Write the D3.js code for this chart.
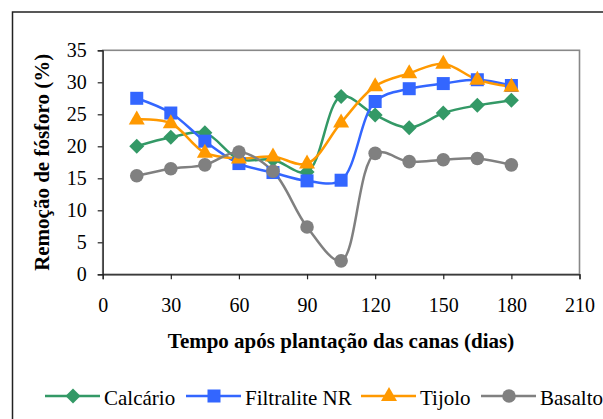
<!DOCTYPE html>
<html><head><meta charset="utf-8">
<script src="https://cdn.jsdelivr.net/npm/d3@7"></script>
<style>body{margin:0;background:#fff;} svg{display:block;}</style>
</head><body>
<svg id="c" width="603" height="419"></svg>
<script>
const days = [15,30,45,60,75,90,105,120,135,150,165,180];
const calcario   = [20.0,21.4,22.1,18.0,17.9,16.0,27.8,24.9,22.9,25.2,26.4,27.2];
const filtralite = [27.5,25.2,20.8,17.3,15.9,14.6,14.7,27.0,29.0,29.8,30.4,29.5];
const tijolo     = [24.2,23.6,19.0,18.1,18.4,17.3,23.7,29.4,31.4,32.9,30.4,29.3];
const basalto    = [15.4,16.5,17.1,19.1,16.1,7.4,2.1,18.9,17.6,17.9,18.1,17.1];
const xTicks = [0,30,60,90,120,150,180,210];
const yTicks = [0,5,10,15,20,25,30,35];
const seriesNames = ["Calcário","Filtralite NR","Tijolo","Basalto"];
const seriesColors = ["#339966","#3366FF","#FF9900","#808080"];
const seriesShapes = ["diamond","square","triangle","circle"];
const seriesData = [calcario, filtralite, tijolo, basalto];

// make sure the serif face is resolved before drawing
const cv = document.createElement("canvas").getContext("2d");
["20px 'Liberation Serif'","bold 20px 'Liberation Serif'"].forEach(f=>{cv.font=f; cv.measureText("Remoção 0123");});

const SERIF = "'Liberation Serif', monospace";
const svg = d3.select("#c");
const L = 102.7, R = 579.5, T = 50.3, B = 274.3;
const x = d3.scaleLinear().domain([0,210]).range([L,R]);
const y = d3.scaleLinear().domain([0,35]).range([B,T]);

svg.append("rect").attr("x",12.5).attr("y",12).attr("width",640).attr("height",440)
  .attr("fill","none").attr("stroke","#222").attr("stroke-width",1.5);

svg.append("rect").attr("x",L).attr("y",T).attr("width",R-L).attr("height",B-T)
  .attr("fill","none").attr("stroke","#888").attr("stroke-width",1.6);

const xAxis = svg.append("g").attr("transform",`translate(0,${B})`)
  .call(d3.axisBottom(x).tickValues(xTicks).tickSize(5).tickPadding(19).tickFormat(d3.format("d")));
const yAxis = svg.append("g").attr("transform",`translate(${L},0)`)
  .call(d3.axisLeft(y).tickValues(yTicks).tickSize(5).tickPadding(11).tickFormat(d3.format("d")));
[xAxis,yAxis].forEach(a=>{
  a.attr("font-family",null).attr("font-size",null);
  a.select(".domain").attr("stroke","#222").attr("stroke-width",1.2);
  a.selectAll(".tick line").attr("stroke","#222").attr("stroke-width",1.2);
  a.selectAll("text").attr("fill","#000").attr("font-size",20).style("font-family",SERIF);
});

svg.append("text").attr("x",341).attr("y",348).attr("text-anchor","middle")
  .attr("font-size",21).attr("font-weight","bold").style("font-family",SERIF)
  .text("Tempo após plantação das canas (dias)");
svg.append("text").attr("transform",`translate(49,${(T+B)/2}) rotate(-90)`).attr("text-anchor","middle")
  .attr("font-size",21).attr("font-weight","bold").style("font-family",SERIF)
  .text("Remoção de fósforo (%)");

function marker(g, shape, color, cx, cy){
  if(shape==="diamond"){
    g.append("path").attr("d",`M${cx},${cy-7.5}L${cx+7.5},${cy}L${cx},${cy+7.5}L${cx-7.5},${cy}Z`).attr("fill",color);
  } else if(shape==="square"){
    g.append("rect").attr("x",cx-6.5).attr("y",cy-6.5).attr("width",13).attr("height",13).attr("fill",color);
  } else if(shape==="triangle"){
    g.append("path").attr("d",`M${cx},${cy-9}L${cx+8},${cy+5}L${cx-8},${cy+5}Z`).attr("fill",color);
  } else {
    g.append("circle").attr("cx",cx).attr("cy",cy).attr("r",6.8).attr("fill",color);
  }
}

const line = d3.line().x((d,i)=>x(days[i])).y(d=>y(d)).curve(d3.curveCatmullRom.alpha(0.5));
seriesData.forEach((vals,k)=>{
  svg.append("path").datum(vals).attr("d",line).attr("fill","none")
    .attr("stroke",seriesColors[k]).attr("stroke-width",2.5);
});
seriesData.forEach((vals,k)=>{
  const g = svg.append("g");
  vals.forEach((v,i)=>marker(g, seriesShapes[k], seriesColors[k], x(days[i]), y(v)));
});

const legX = [45,186,361,481];
const ly = 396;
seriesNames.forEach((n,k)=>{
  const g = svg.append("g");
  g.append("line").attr("x1",legX[k]).attr("x2",legX[k]+55).attr("y1",ly).attr("y2",ly)
    .attr("stroke",seriesColors[k]).attr("stroke-width",2.5);
  marker(g, seriesShapes[k], seriesColors[k], legX[k]+28, ly);
  g.append("text").attr("x",legX[k]+59).attr("y",405)
    .attr("font-size",21).style("font-family",SERIF).text(n);
});
</script>
</body></html>
